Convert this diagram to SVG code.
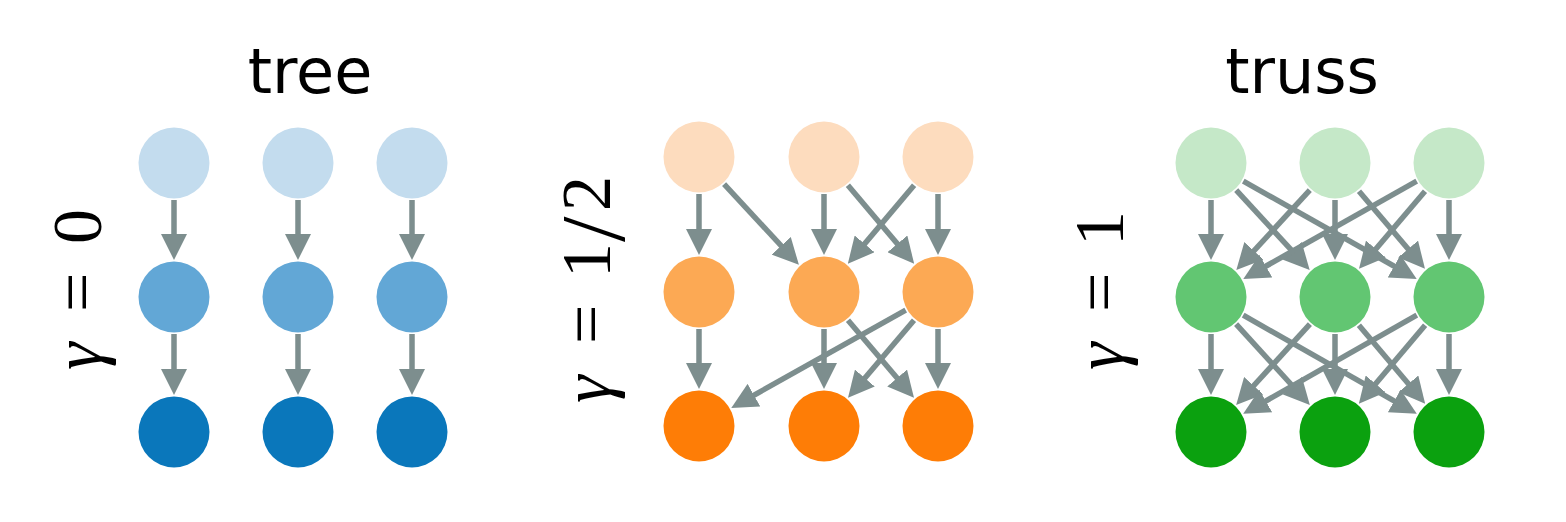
<svg xmlns="http://www.w3.org/2000/svg" width="1566" height="522" viewBox="0 0 1566 522">
<style>
.title{font-family:"DejaVu Sans",sans-serif;font-size:62px;fill:#000;text-anchor:middle}
.gl{font-family:"Liberation Serif",serif;font-size:70px;fill:#000}
.gi{font-style:italic}
.e{stroke:#7d8e8e;stroke-width:5.5;fill:none;marker-end:url(#ah)}
.b0{fill:#c3dcee}.b1{fill:#62a7d6}.b2{fill:#0a77bb}
.o0{fill:#fddcbe}.o1{fill:#fca954}.o2{fill:#fe7d06}
.g0{fill:#c5e8c8}.g1{fill:#62c672}.g2{fill:#0ba10f}
</style>
<defs>
<marker id="ah" markerUnits="userSpaceOnUse" markerWidth="26" markerHeight="26" refX="16" refY="13" orient="auto">
<path d="M0,0 L26,13 L0,26 Z" fill="#7d8e8e"/>
</marker>
</defs>
<rect width="1566" height="522" fill="#fff"/>

<text class="title" x="310" y="93">tree</text>
<text class="title" x="1302" y="93">truss</text>

<g class="gl" transform="translate(101,370) rotate(-90)"><text><tspan class="gi" x="0" y="0">γ</tspan><tspan x="58" y="0">=</tspan><tspan x="126" y="0">0</tspan></text></g>
<g class="gl" transform="translate(610,403) rotate(-90)"><text><tspan class="gi" x="0" y="0">γ</tspan><tspan x="59" y="0">=</tspan><tspan x="125" y="0">1</tspan><tspan x="161" y="14" style="font-size:92px">/</tspan><tspan x="192" y="0">2</tspan></text></g>
<g class="gl" transform="translate(1123,370) rotate(-90)"><text><tspan class="gi" x="0" y="0">γ</tspan><tspan x="58" y="0">=</tspan><tspan x="124" y="0">1</tspan></text></g>

<g id="connectors">
<line class="e" x1="174" y1="200" x2="174" y2="250"/>
<line class="e" x1="298" y1="200" x2="298" y2="250"/>
<line class="e" x1="412" y1="200" x2="412" y2="250"/>
<line class="e" x1="174" y1="334" x2="174" y2="385"/>
<line class="e" x1="298" y1="334" x2="298" y2="385"/>
<line class="e" x1="412" y1="334" x2="412" y2="385"/>
<line class="e" x1="699" y1="194" x2="699" y2="245"/>
<line class="e" x1="724.1" y1="184.2" x2="792.1" y2="257.5"/>
<line class="e" x1="824" y1="194" x2="824" y2="245"/>
<line class="e" x1="847.9" y1="185.3" x2="907.7" y2="256.1"/>
<line class="e" x1="914.1" y1="185.3" x2="854.3" y2="256.1"/>
<line class="e" x1="938" y1="194" x2="938" y2="245"/>
<line class="e" x1="699" y1="329" x2="699" y2="379"/>
<line class="e" x1="824" y1="329" x2="824" y2="379"/>
<line class="e" x1="848" y1="320.2" x2="907.5" y2="390.2"/>
<line class="e" x1="905.7" y1="310.1" x2="740" y2="403"/>
<line class="e" x1="914" y1="320.2" x2="854.5" y2="390.2"/>
<line class="e" x1="938" y1="329" x2="938" y2="379"/>
<line class="e" x1="1211" y1="200" x2="1211" y2="250"/>
<line class="e" x1="1236.2" y1="190.1" x2="1302.9" y2="262.6"/>
<line class="e" x1="1243.3" y1="181.1" x2="1408" y2="274"/>
<line class="e" x1="1309.8" y1="190.1" x2="1243.1" y2="262.6"/>
<line class="e" x1="1335" y1="200" x2="1335" y2="250"/>
<line class="e" x1="1359" y1="191.2" x2="1418.5" y2="261.2"/>
<line class="e" x1="1416.7" y1="181.1" x2="1252" y2="274"/>
<line class="e" x1="1425" y1="191.2" x2="1365.5" y2="261.2"/>
<line class="e" x1="1449" y1="200" x2="1449" y2="250"/>
<line class="e" x1="1211" y1="334" x2="1211" y2="385"/>
<line class="e" x1="1236.1" y1="324.2" x2="1303.1" y2="397.5"/>
<line class="e" x1="1243.2" y1="315.2" x2="1408.1" y2="408.9"/>
<line class="e" x1="1309.9" y1="324.2" x2="1242.9" y2="397.5"/>
<line class="e" x1="1335" y1="334" x2="1335" y2="385"/>
<line class="e" x1="1358.9" y1="325.3" x2="1418.7" y2="396.1"/>
<line class="e" x1="1416.8" y1="315.2" x2="1251.9" y2="408.9"/>
<line class="e" x1="1425.1" y1="325.3" x2="1365.3" y2="396.1"/>
<line class="e" x1="1449" y1="334" x2="1449" y2="385"/>
</g>

<g id="tree-nodes">
<circle id="t00" class="b0" cx="174" cy="163" r="35.5"/>
<circle id="t01" class="b0" cx="298" cy="163" r="35.5"/>
<circle id="t02" class="b0" cx="412" cy="163" r="35.5"/>
<circle id="t10" class="b1" cx="174" cy="297" r="35.5"/>
<circle id="t11" class="b1" cx="298" cy="297" r="35.5"/>
<circle id="t12" class="b1" cx="412" cy="297" r="35.5"/>
<circle id="t20" class="b2" cx="174" cy="432" r="35.5"/>
<circle id="t21" class="b2" cx="298" cy="432" r="35.5"/>
<circle id="t22" class="b2" cx="412" cy="432" r="35.5"/>
</g>
<g id="half-nodes">
<circle id="h00" class="o0" cx="699" cy="157" r="35.5"/>
<circle id="h01" class="o0" cx="824" cy="157" r="35.5"/>
<circle id="h02" class="o0" cx="938" cy="157" r="35.5"/>
<circle id="h10" class="o1" cx="699" cy="292" r="35.5"/>
<circle id="h11" class="o1" cx="824" cy="292" r="35.5"/>
<circle id="h12" class="o1" cx="938" cy="292" r="35.5"/>
<circle id="h20" class="o2" cx="699" cy="426" r="35.5"/>
<circle id="h21" class="o2" cx="824" cy="426" r="35.5"/>
<circle id="h22" class="o2" cx="938" cy="426" r="35.5"/>
</g>
<g id="truss-nodes">
<circle id="s00" class="g0" cx="1211" cy="163" r="35.5"/>
<circle id="s01" class="g0" cx="1335" cy="163" r="35.5"/>
<circle id="s02" class="g0" cx="1449" cy="163" r="35.5"/>
<circle id="s10" class="g1" cx="1211" cy="297" r="35.5"/>
<circle id="s11" class="g1" cx="1335" cy="297" r="35.5"/>
<circle id="s12" class="g1" cx="1449" cy="297" r="35.5"/>
<circle id="s20" class="g2" cx="1211" cy="432" r="35.5"/>
<circle id="s21" class="g2" cx="1335" cy="432" r="35.5"/>
<circle id="s22" class="g2" cx="1449" cy="432" r="35.5"/>
</g>
</svg>
